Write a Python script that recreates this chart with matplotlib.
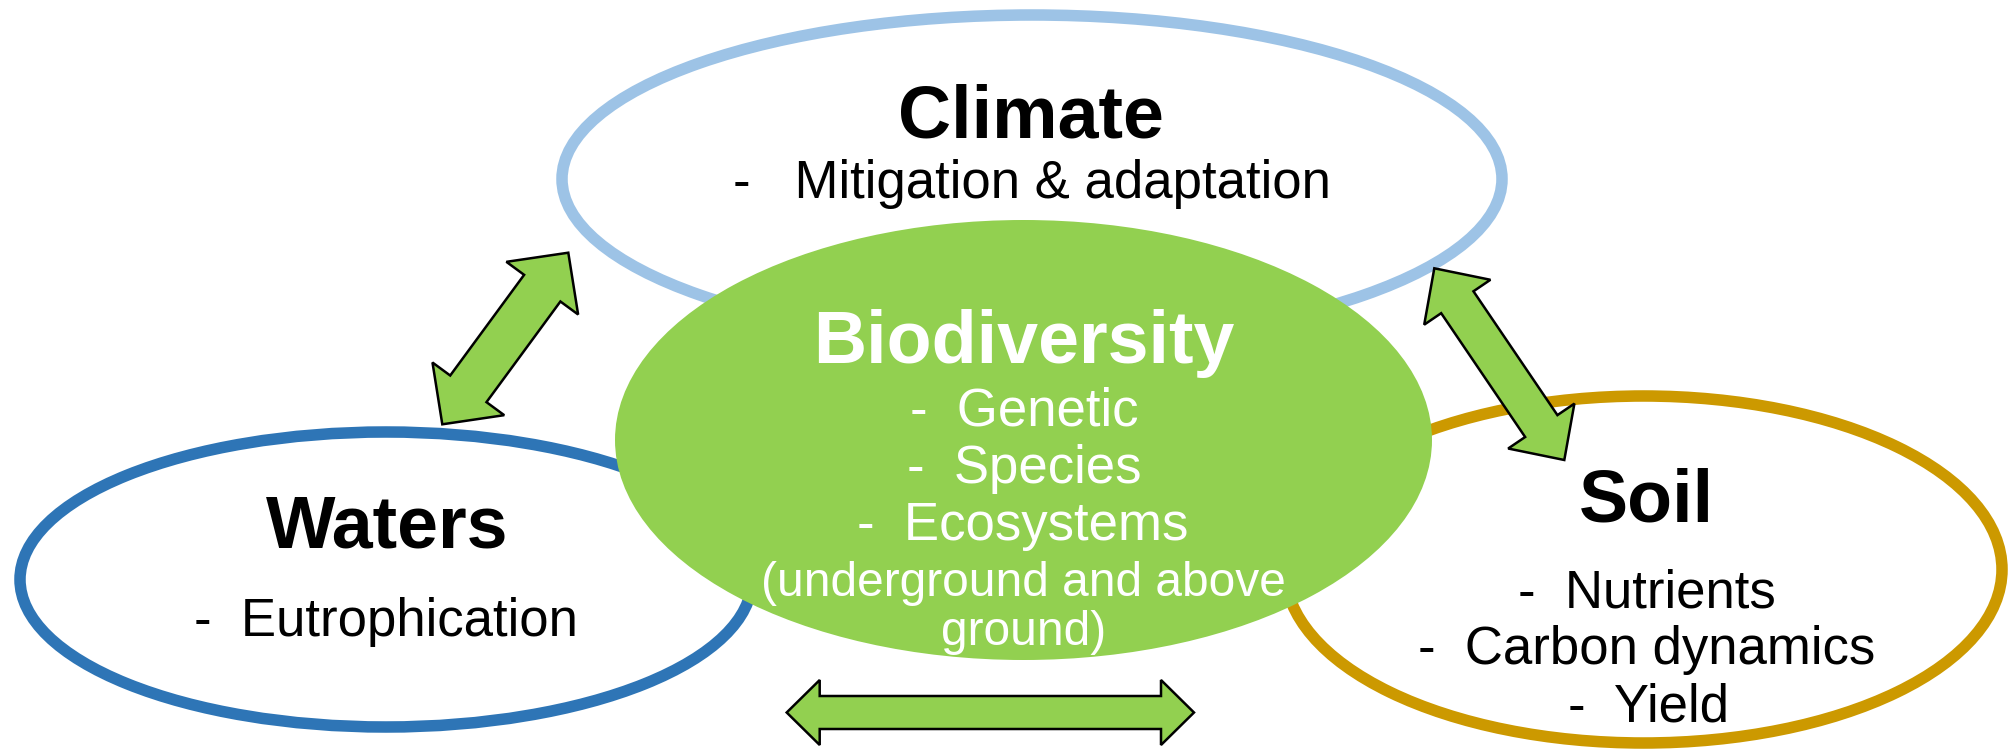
import numpy as np
import matplotlib
matplotlib.use('Agg')
import matplotlib.pyplot as plt
from matplotlib.patches import Ellipse, Polygon

plt.rcParams['font.family'] = ['Liberation Sans', 'DejaVu Sans']

W, H = 2009, 749

# ellipses: name, centre, width, height, edge colour, fill colour
rings = ['Climate', 'Waters', 'Soil']
ring_centers = [(1032, 179), (386, 579.5), (1643.5, 569.5)]
ring_sizes = [(940, 328), (732, 295), (717, 347)]
ring_colors = ['#9DC3E6', '#2E75B6', '#CC9900']

bio_center = (1023.5, 440)
bio_size = (817, 440)
green = '#92D050'

# titles and their bullet lines
titles = ['Climate', 'Biodiversity', 'Waters', 'Soil']
title_pos = [(1031, 138), (1024, 363), (387, 547), (1646, 521)]
title_colors = ['black', 'white', 'black', 'black']

bullets = ['-   Mitigation & adaptation',
           '-  Genetic', '-  Species', '-  Ecosystems',
           '(underground and above', 'ground)',
           '-  Eutrophication',
           '-  Nutrients', '-  Carbon dynamics', '-  Yield']
bullet_pos = [(1032, 198),
              (1024, 425), (1024, 483), (1023, 540), (1023, 596), (1024, 645),
              (386, 636),
              (1647, 607), (1647, 664), (1648, 721)]
bullet_colors = ['black'] + ['white'] * 5 + ['black'] * 4
bullet_sizes = [38, 38, 38, 38, 34.5, 34.5, 38, 38, 38, 38]

# double arrows: tail tip, head tip, shaft width, head width, head length
arrows = [((442.3, 424.3), (568.3, 252.7), 45, 89, 44),
          ((1564.3, 460.0), (1434.3, 268.3), 39, 80, 41),
          ((786.7, 712.5), (1194.0, 712.5), 33, 65, 33)]


def double_arrow(p0, p1, sw, hw, hl):
    p0 = np.array(p0)
    p1 = np.array(p1)
    d = (p1 - p0) / np.linalg.norm(p1 - p0)
    n = np.array([-d[1], d[0]])
    a = p0 + d * hl
    b = p1 - d * hl
    pts = [p0,
           a + n * hw / 2, a + n * sw / 2,
           b + n * sw / 2, b + n * hw / 2,
           p1,
           b - n * hw / 2, b - n * sw / 2,
           a - n * sw / 2, a - n * hw / 2]
    return Polygon(pts, closed=True, facecolor=green, edgecolor='black',
                   linewidth=1.8, joinstyle='miter', zorder=5)


fig = plt.figure(figsize=(W / 100, H / 100), dpi=100)
ax = fig.add_axes([0, 0, 1, 1])
ax.set_xlim(0, W)
ax.set_ylim(H, 0)
ax.set_axis_off()

for c, s, col in zip(ring_centers, ring_sizes, ring_colors):
    ax.add_patch(Ellipse(c, s[0], s[1], facecolor='white', edgecolor=col,
                         linewidth=8.3, zorder=1))

ax.add_patch(Ellipse(bio_center, bio_size[0], bio_size[1],
                     facecolor=green, edgecolor='none', zorder=3))

for a in arrows:
    ax.add_patch(double_arrow(*a))

for t, p, col in zip(titles, title_pos, title_colors):
    ax.text(p[0], p[1], t, ha='center', va='baseline', fontsize=53,
            fontweight='bold', color=col, zorder=6)

for t, p, col, fs in zip(bullets, bullet_pos, bullet_colors, bullet_sizes):
    ax.text(p[0], p[1], t, ha='center', va='baseline', fontsize=fs,
            color=col, zorder=6)

fig.savefig('out.png', dpi=100)
